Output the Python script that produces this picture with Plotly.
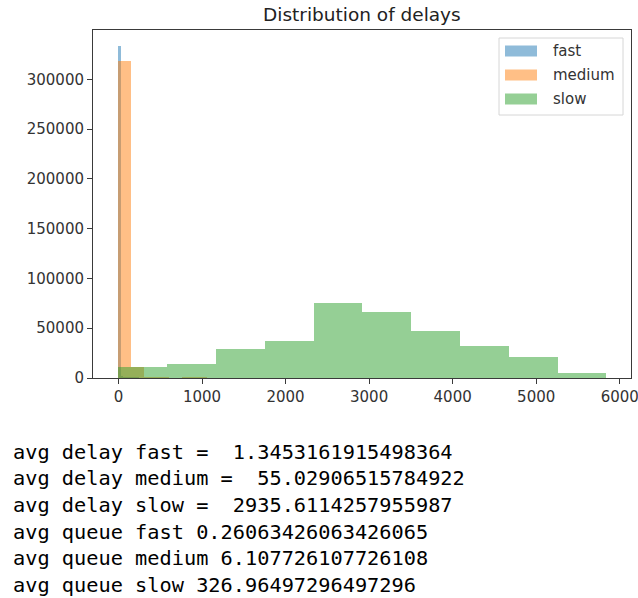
import plotly.graph_objects as go

# ---------------- data ----------------
series_names = ["fast", "medium", "slow"]
series_colors = ["#1f77b4", "#ff7f0e", "#2ca02c"]

fast_bin_width = 30
fast_counts = [333400, 1200, 300, 120, 60, 30, 15, 8, 4, 2]

medium_bin_width = 152
medium_counts = [318400, 10800, 700, 600, 0, 700, 600, 0, 0, 0]

slow_bin_width = 584
slow_counts = [11000, 14400, 28800, 36800, 75600, 65900, 46800, 32400, 21100, 5000]

x_ticks = [0, 1000, 2000, 3000, 4000, 5000, 6000]
y_ticks = [0, 50000, 100000, 150000, 200000, 250000, 300000]

stat_labels = [
    "avg delay fast =  ",
    "avg delay medium =  ",
    "avg delay slow =  ",
    "avg queue fast ",
    "avg queue medium ",
    "avg queue slow ",
]
stat_values = [
    "1.3453161915498364",
    "55.02906515784922",
    "2935.6114257955987",
    "0.26063426063426065",
    "6.107726107726108",
    "326.96497296497296",
]

title_text = "Distribution of delays"

# ---------------- layout geometry (pixels) ----------------
W, H = 638, 598
L, R, T, B = 93, 631, 30, 378
PW, PH = R - L, B - T


def px_x(px):
    return (px - L) / PW


def px_y(py):
    return (B - py) / PH


fig = go.Figure()

bins = [
    (fast_counts, fast_bin_width),
    (medium_counts, medium_bin_width),
    (slow_counts, slow_bin_width),
]
for name, color, (counts, bw) in zip(series_names, series_colors, bins):
    lefts = [i * bw for i in range(len(counts))]
    fig.add_trace(
        go.Bar(
            x=lefts,
            y=counts,
            width=[bw] * len(counts),
            offset=0,
            name=name,
            marker=dict(color=color, opacity=0.5, line=dict(width=0)),
            showlegend=False,
        )
    )

axis_color = "#3a3a3a"
tick_font = dict(family="DejaVu Sans", size=15, color="#333333")

common_axis = dict(
    showgrid=False,
    zeroline=False,
    showline=True,
    linecolor=axis_color,
    linewidth=1,
    mirror=True,
    ticks="outside",
    ticklen=5,
    tickwidth=1,
    tickcolor=axis_color,
    tickfont=tick_font,
    ticklabeloverflow="allow",
    automargin=False,
)

fig.update_layout(
    width=W,
    height=H,
    margin=dict(l=L, r=W - R, t=T, b=H - B, pad=0, autoexpand=False),
    paper_bgcolor="white",
    plot_bgcolor="white",
    barmode="overlay",
    bargap=0,
    showlegend=False,
    font=dict(family="DejaVu Sans", color="#333333"),
    xaxis=dict(
        range=[-305, 6135],
        tickvals=x_ticks,
        ticktext=[str(v) for v in x_ticks],
        **common_axis,
    ),
    yaxis=dict(
        range=[0, 349700],
        tickvals=y_ticks,
        ticktext=[str(v) for v in y_ticks],
        **common_axis,
    ),
)

annotations = []
shapes = []

# title
annotations.append(
    dict(
        text=title_text,
        x=px_x((L + R) / 2),
        y=px_y(14),
        xref="paper",
        yref="paper",
        xanchor="center",
        yanchor="middle",
        showarrow=False,
        font=dict(family="DejaVu Sans", size=18.5, color="#222222"),
    )
)

# legend box
shapes.append(
    dict(
        type="rect",
        xref="paper",
        yref="paper",
        x0=px_x(499),
        x1=px_x(623),
        y0=px_y(115),
        y1=px_y(38),
        line=dict(color="#d6d6d6", width=1),
        fillcolor="rgba(255,255,255,0.8)",
        layer="above",
    )
)
row_y = [51, 75, 99]
for name, color, ry in zip(series_names, series_colors, row_y):
    shapes.append(
        dict(
            type="rect",
            xref="paper",
            yref="paper",
            x0=px_x(505),
            x1=px_x(537),
            y0=px_y(ry + 5.5),
            y1=px_y(ry - 5.5),
            line=dict(width=0),
            fillcolor=color,
            opacity=0.5,
            layer="above",
        )
    )
    annotations.append(
        dict(
            text=name,
            x=px_x(551),
            y=px_y(ry),
            xref="paper",
            yref="paper",
            xanchor="left",
            yanchor="middle",
            showarrow=False,
            font=dict(family="DejaVu Sans", size=15, color="#333333"),
        )
    )

# printed output lines
line_y0 = 451.7
line_step = 26.6
for i, (lab, val) in enumerate(zip(stat_labels, stat_values)):
    txt = (lab + val).replace(" ", "&nbsp;")
    annotations.append(
        dict(
            text=txt,
            x=px_x(11),
            y=px_y(line_y0 + i * line_step),
            xref="paper",
            yref="paper",
            xanchor="left",
            yanchor="middle",
            showarrow=False,
            font=dict(family="DejaVu Sans Mono", size=20.3, color="#000000"),
        )
    )

fig.update_layout(annotations=annotations, shapes=shapes)

fig.write_html("out.html")
